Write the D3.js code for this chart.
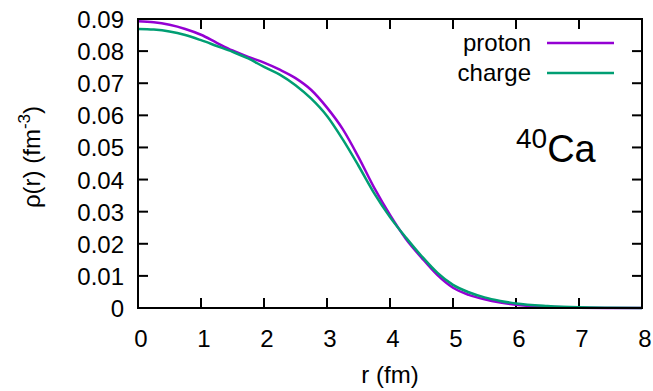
<!DOCTYPE html>
<html>
<head>
<meta charset="utf-8">
<script src="https://cdn.jsdelivr.net/npm/d3@7"></script>
<style>
  html, body { margin: 0; padding: 0; background: #fff; }
  svg { display: block; font-family: "Liberation Sans", Arial, sans-serif; }
</style>
</head>
<body>
<svg id="chart" width="653" height="391"></svg>
<script>
// ---- data ----
const r = [0, 0.25, 0.5, 0.75, 1, 1.25, 1.5, 1.75, 2, 2.25, 2.5, 2.75, 3, 3.25, 3.5, 3.75, 4, 4.25, 4.5, 4.75, 5, 5.25, 5.5, 5.75, 6, 6.5, 7, 7.5, 8];
const proton = [0.0893, 0.0890, 0.0882, 0.0869, 0.0851, 0.0826, 0.0802, 0.0782, 0.0764, 0.0742, 0.0716, 0.0679, 0.0624, 0.0557, 0.0470, 0.0374, 0.0290, 0.0216, 0.0157, 0.0103, 0.0063, 0.0041, 0.0027, 0.0017, 0.0010, 0.0004, 0.0001, 0.00003, 0.00001];
const charge = [0.0869, 0.0867, 0.0861, 0.0850, 0.0834, 0.0816, 0.0798, 0.0777, 0.0751, 0.0727, 0.0694, 0.0652, 0.0598, 0.0525, 0.0443, 0.0357, 0.0283, 0.0220, 0.0162, 0.0110, 0.0072, 0.0049, 0.0033, 0.0022, 0.0014, 0.0006, 0.0002, 0.00007, 0.00002];
const seriesNames = ["proton", "charge"];
const seriesColors = ["#9400D3", "#009E73"];
const xTicks = [0, 1, 2, 3, 4, 5, 6, 7, 8];
const yTicks = [0, 0.01, 0.02, 0.03, 0.04, 0.05, 0.06, 0.07, 0.08, 0.09];

// ---- layout ----
const L = 138, R = 642, T = 19, B = 308;
const svg = d3.select("#chart");
const x = d3.scaleLinear().domain([0, 8]).range([L, R]);
const y = d3.scaleLinear().domain([0, 0.09]).range([B, T]);
const tickFont = 24;

// ticks (mirrored on all sides)
const g = svg.append("g");
xTicks.forEach(t => {
  if (t > 0 && t < 8) {
    g.append("line").attr("x1", x(t)).attr("x2", x(t)).attr("y1", B).attr("y2", B - 10).attr("stroke", "#000").attr("stroke-width", 2);
    g.append("line").attr("x1", x(t)).attr("x2", x(t)).attr("y1", T).attr("y2", T + 10).attr("stroke", "#000").attr("stroke-width", 2);
  }
  g.append("text").attr("x", x(t) + 3).attr("y", 347).attr("text-anchor", "middle")
    .attr("font-size", tickFont).text(d3.format("d")(t));
});
yTicks.forEach(t => {
  if (t > 0 && t < 0.09) {
    g.append("line").attr("x1", L).attr("x2", L + 10).attr("y1", y(t)).attr("y2", y(t)).attr("stroke", "#000").attr("stroke-width", 2);
    g.append("line").attr("x1", R).attr("x2", R - 10).attr("y1", y(t)).attr("y2", y(t)).attr("stroke", "#000").attr("stroke-width", 2);
  }
  g.append("text").attr("x", 124).attr("y", y(t) + 9).attr("text-anchor", "end")
    .attr("font-size", tickFont).text(t === 0 ? "0" : d3.format(".2f")(t));
});

// curves
const line = d3.line().x(d => x(d[0])).y(d => y(d[1])).curve(d3.curveMonotoneX);
[proton, charge].forEach((vals, i) => {
  svg.append("path")
    .datum(r.map((rv, k) => [rv, vals[k]]))
    .attr("d", line)
    .attr("fill", "none")
    .attr("stroke", seriesColors[i])
    .attr("stroke-width", 2.5);
});

// frame
svg.append("rect").attr("x", L).attr("y", T).attr("width", R - L).attr("height", B - T)
  .attr("fill", "none").attr("stroke", "#000").attr("stroke-width", 2);

// legend
seriesNames.forEach((name, i) => {
  const ly = 43 + i * 30;
  svg.append("text").attr("x", 531).attr("y", ly + 8).attr("text-anchor", "end")
    .attr("font-size", tickFont).text(name);
  svg.append("line").attr("x1", 547).attr("x2", 614).attr("y1", ly).attr("y2", ly)
    .attr("stroke", seriesColors[i]).attr("stroke-width", 2.5);
});

// nucleus label
const lab = svg.append("text").attr("x", 516).attr("y", 162);
lab.append("tspan").attr("font-size", 28).attr("dy", -14).text("40");
lab.append("tspan").attr("font-size", 38).attr("dy", 14).text("Ca");

// axis titles
svg.append("text").attr("x", 390).attr("y", 383).attr("text-anchor", "middle")
  .attr("font-size", tickFont).text("r (fm)");
const yl = svg.append("text").attr("transform", "translate(40,157) rotate(-90)")
  .attr("text-anchor", "middle").attr("font-size", tickFont);
yl.append("tspan").text("ρ(r) (fm");
yl.append("tspan").attr("font-size", 17).attr("dy", -10).text("-3");
yl.append("tspan").attr("dy", 10).text(")");
</script>
</body>
</html>
